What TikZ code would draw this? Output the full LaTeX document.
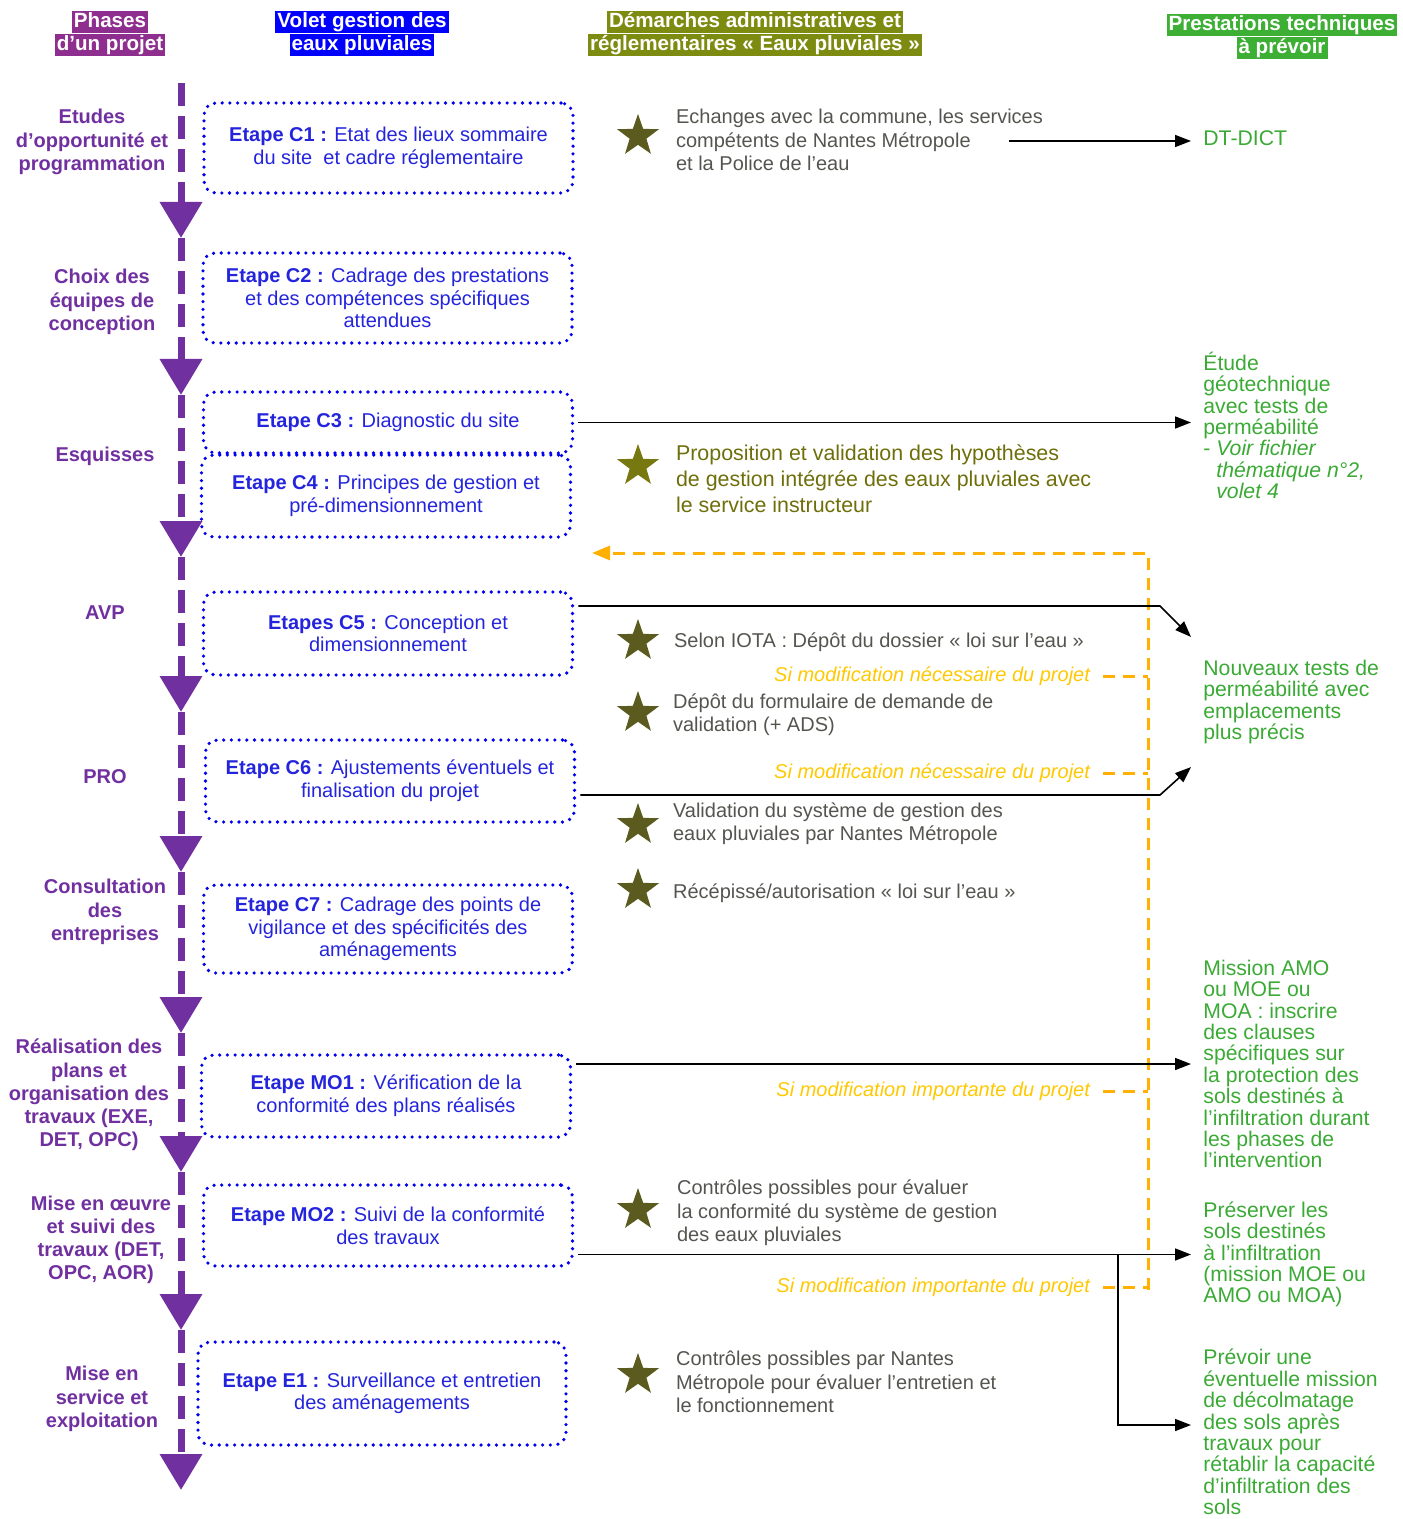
\documentclass[tikz,border=0pt]{standalone}
\usepackage{fontspec}
\setmainfont{Liberation Sans}
\usetikzlibrary{arrows.meta}
\usetikzlibrary{positioning}
\usetikzlibrary{shapes.geometric}
\definecolor{phasecol}{HTML}{7030A0}
\definecolor{hphase}{HTML}{8E2E8E}
\definecolor{hvolet}{HTML}{0000FF}
\definecolor{hdemarche}{HTML}{7D8C10}
\definecolor{hpresta}{HTML}{3DAF34}
\definecolor{stageblue}{HTML}{0000EE}
\definecolor{stagetext}{HTML}{2424DD}
\definecolor{demgray}{HTML}{555550}
\definecolor{demolive}{HTML}{6E6E0A}
\definecolor{stargreen}{HTML}{5B5B20}
\definecolor{starolive}{HTML}{787810}
\definecolor{condyellow}{HTML}{FFC800}
\definecolor{retourorange}{HTML}{FFB000}
\definecolor{prestagreen}{HTML}{3AAA35}

\begin{document}
\begin{tikzpicture}[x=0.5pt,y=-0.5pt,
  header/.style={text=white,font=\fontsize{10.3}{11}\selectfont\bfseries,inner xsep=1pt,inner ysep=0pt,text height=8.3pt,text depth=2.7pt},
  phase/.style={text=phasecol,align=center,font=\fontsize{10}{11.6}\selectfont\bfseries},
  stage/.style={draw=stageblue,line width=1.8pt,dash pattern=on 0pt off 3.85pt,line cap=round,rounded corners=6pt,text=stagetext,align=center,font=\fontsize{10}{11.3}\selectfont,minimum width=184.5pt},
  demarche/.style={text=demgray,align=left,anchor=west,font=\fontsize{10}{11.7}\selectfont},
  etoile/.style={star,star points=5,star point ratio=2.5,fill=stargreen,minimum size=22pt,inner sep=0pt},
  condition/.style={text=condyellow,anchor=east,font=\fontsize{10}{12}\selectfont\itshape},
  presta/.style={text=prestagreen,align=left,anchor=west,inner xsep=6pt,font=\fontsize{10.6}{10.7}\selectfont},
  fleche/.style={line width=0.8pt,shorten <=2pt,-{Triangle[length=8pt,width=6pt]}},
  retour/.style={draw=retourorange,line width=1.5pt,dash pattern=on 6pt off 4pt},
  phasearrow/.style={draw=phasecol,line width=3.5pt,dash pattern=on 11.5pt off 5pt,-{Triangle[length=18pt,width=20.5pt]}}]
\useasboundingbox (0,0) rectangle (1402,1519);

% titres des colonnes
\node [header, fill=hphase, name=h1a]    at (110,22) {Phases};
\node [header, fill=hphase, below=0pt of h1a, name=h1b] {d’un projet};
\node [header, fill=hvolet, name=h2a]    at (362,22) {Volet gestion des};
\node [header, fill=hvolet, below=0pt of h2a, name=h2b] {eaux pluviales};
\node [header, fill=hdemarche, name=h3a] at (755,22) {Démarches administratives et};
\node [header, fill=hdemarche, below=0pt of h3a, name=h3b] {réglementaires « Eaux pluviales »};
\node [header, fill=hpresta, name=h4a]   at (1282,25) {Prestations techniques};
\node [header, fill=hpresta, below=0pt of h4a, name=h4b] {à prévoir};

% phases
\foreach \y [count=\i] in {83,238,395,557,712,872,1033,1172,1330,1490}
  \coordinate (t\i) at (181,\y);
\foreach \i/\j in {1/2,2/3,3/4,4/5,5/6,6/7,7/8,8/9,9/10}
  \draw [phasearrow] (t\i) -- (t\j);

\node [phase, name=p1] at (92,142)  {Etudes\\d’opportunité et\\programmation};
\node [phase, name=p2] at (102,302) {Choix des\\équipes de\\conception};
\node [phase, name=p3] at (105,456) {Esquisses};
\node [phase, name=p4] at (105,613) {AVP};
\node [phase, name=p5] at (105,777) {PRO};
\node [phase, name=p6] at (105,912) {Consultation\\des\\entreprises};
\node [phase, name=p7] at (89,1095) {Réalisation des\\plans et\\organisation des\\travaux (EXE,\\DET, OPC)};
\node [phase, name=p8] at (101,1240) {Mise en œuvre\\et suivi des\\travaux (DET,\\OPC, AOR)};
\node [phase, name=p9] at (102,1399) {Mise en\\service et\\exploitation};

% etapes
\node [stage, minimum height=45pt, name=c1]    at (388.5,148) {\textbf{Etape C1 :} Etat des lieux sommaire\\du site\ \ et cadre réglementaire};
\node [stage, minimum height=45pt, name=c2]    at (387.5,298) {\textbf{Etape C2 :} Cadrage des prestations\\et des compétences spécifiques\\attendues};
\node [stage, minimum height=30.5pt, name=c3]  at (388,422.5) {\textbf{Etape C3 :} Diagnostic du site};
\node [stage, minimum height=41pt, name=c4]    at (386,496)   {\textbf{Etape C4 :} Principes de gestion et\\pré-dimensionnement};
\node [stage, minimum height=41.5pt, name=c5]  at (388,633.5) {\textbf{Etapes C5 :} Conception et\\dimensionnement};
\node [stage, minimum height=41pt, name=c6]    at (390,781)   {\textbf{Etape C6 :} Ajustements éventuels et\\finalisation du projet};
\node [stage, minimum height=44pt, name=c7]    at (388,929)   {\textbf{Etape C7 :} Cadrage des points de\\vigilance et des spécificités des\\aménagements};
\node [stage, minimum height=41pt, name=mo1]   at (386,1096)  {\textbf{Etape MO1 :} Vérification de la\\conformité des plans réalisés};
\node [stage, minimum height=40.5pt, name=mo2] at (388,1225.5) {\textbf{Etape MO2 :} Suivi de la conformité\\des travaux};
\node [stage, minimum height=51.5pt, minimum width=184pt, name=e1] at (382,1393.5) {\textbf{Etape E1 :} Surveillance et entretien\\des aménagements};

% demarches
\node [etoile, name=s1] at (638,136) {};
\node [etoile, fill=starolive, name=s2] at (638,466) {};
\node [etoile, name=s3] at (638,641) {};
\node [etoile, name=s4] at (638,713) {};
\node [etoile, name=s5] at (638,825) {};
\node [etoile, name=s6] at (638,890) {};
\node [etoile, name=s7] at (638,1210) {};
\node [etoile, name=s8] at (638,1375) {};
\node [demarche, name=d1] at (669,140)  {Echanges avec la commune, les services\\compétents de Nantes Métropole\\et la Police de l’eau};
\node [demarche, text=demolive, font=\fontsize{10.7}{13}\selectfont, name=d2] at (669,479) {Proposition et validation des hypothèses\\de gestion intégrée des eaux pluviales avec\\le service instructeur};
\node [demarche, name=d3] at (667,642)  {Selon IOTA : Dépôt du dossier « loi sur l’eau »};
\node [demarche, name=d4] at (666,715)  {Dépôt du formulaire de demande de\\validation (+ ADS)};
\node [demarche, name=d5] at (666,824)  {Validation du système de gestion des\\eaux pluviales par Nantes Métropole};
\node [demarche, name=d6] at (666,893)  {Récépissé/autorisation « loi sur l’eau »};
\node [demarche, name=d7] at (670,1213) {Contrôles possibles pour évaluer\\la conformité du système de gestion\\des eaux pluviales};
\node [demarche, name=d8] at (669,1382) {Contrôles possibles par Nantes\\Métropole pour évaluer l’entretien et\\le fonctionnement};

% retours
\node [condition, name=y1] at (1097,676)  {Si modification nécessaire du projet};
\node [condition, name=y2] at (1097,773)  {Si modification nécessaire du projet};
\node [condition, name=y3] at (1097,1091) {Si modification importante du projet};
\node [condition, name=y4] at (1097,1287) {Si modification importante du projet};
\coordinate (rT) at (1148,553);
\coordinate (rB) at (1148,1290);
\coordinate (rE) at (592,553);
\draw [retour, -{Triangle[length=9pt, width=7pt]}] (rB) -- (rT) -- (rE);
\foreach \n in {y1,y2,y3,y4}
  \draw [retour] ([xshift=3pt]\n.east) -- (\n.east -| rT);

% prestations
\node [presta, name=dt]      at (1191,138)    {DT-DICT};
\node [presta, name=etude]   at (1191,425.5)  {Étude\\géotechnique\\avec tests de\\perméabilité\\- \textit{Voir fichier}\\\phantom{- }\textit{thématique n°2,}\\\phantom{- }\textit{volet 4}};
\node [presta, name=nouv]    at (1191,702)    {Nouveaux tests de\\perméabilité avec\\emplacements\\plus précis};
\node [presta, name=mission] at (1191,1064)   {Mission AMO\\ou MOE ou\\MOA : inscrire\\des clauses\\spécifiques sur\\la protection des\\sols destinés à\\l'infiltration durant\\les phases de\\l'intervention};
\node [presta, name=pres]    at (1191,1254.5) {Préserver les\\sols destinés\\à l'infiltration\\(mission MOE ou\\AMO ou MOA)};
\node [presta, name=prev]    at (1191,1432)   {Prévoir une\\éventuelle mission\\de décolmatage\\des sols après\\travaux pour\\rétablir la capacité\\d'infiltration des\\sols};

\coordinate (k1) at (1005,141);
\coordinate (k5) at (1160,606);
\coordinate (k6) at (1160,795);
\coordinate (xb) at (1118,0);
\draw [fleche] (k1) -- (k1 -| dt.west);
\draw [fleche] (c3.east) -- (c3.east -| etude.west);
\draw [fleche] (k5 -| c5.east) -- (k5) -- ([yshift=8pt]nouv.north west);
\draw [fleche] (k6 -| c6.east) -- (k6) -- ([yshift=-8pt]nouv.south west);
\draw [fleche] (mission.west -| mo1.east) -- (mission.west);
\draw [fleche] (pres.west -| mo2.east) -- (pres.west);
\draw [fleche, shorten <=0pt] (pres.west -| xb) |- ([yshift=3.5pt]prev.west);
\end{tikzpicture}
\end{document}
